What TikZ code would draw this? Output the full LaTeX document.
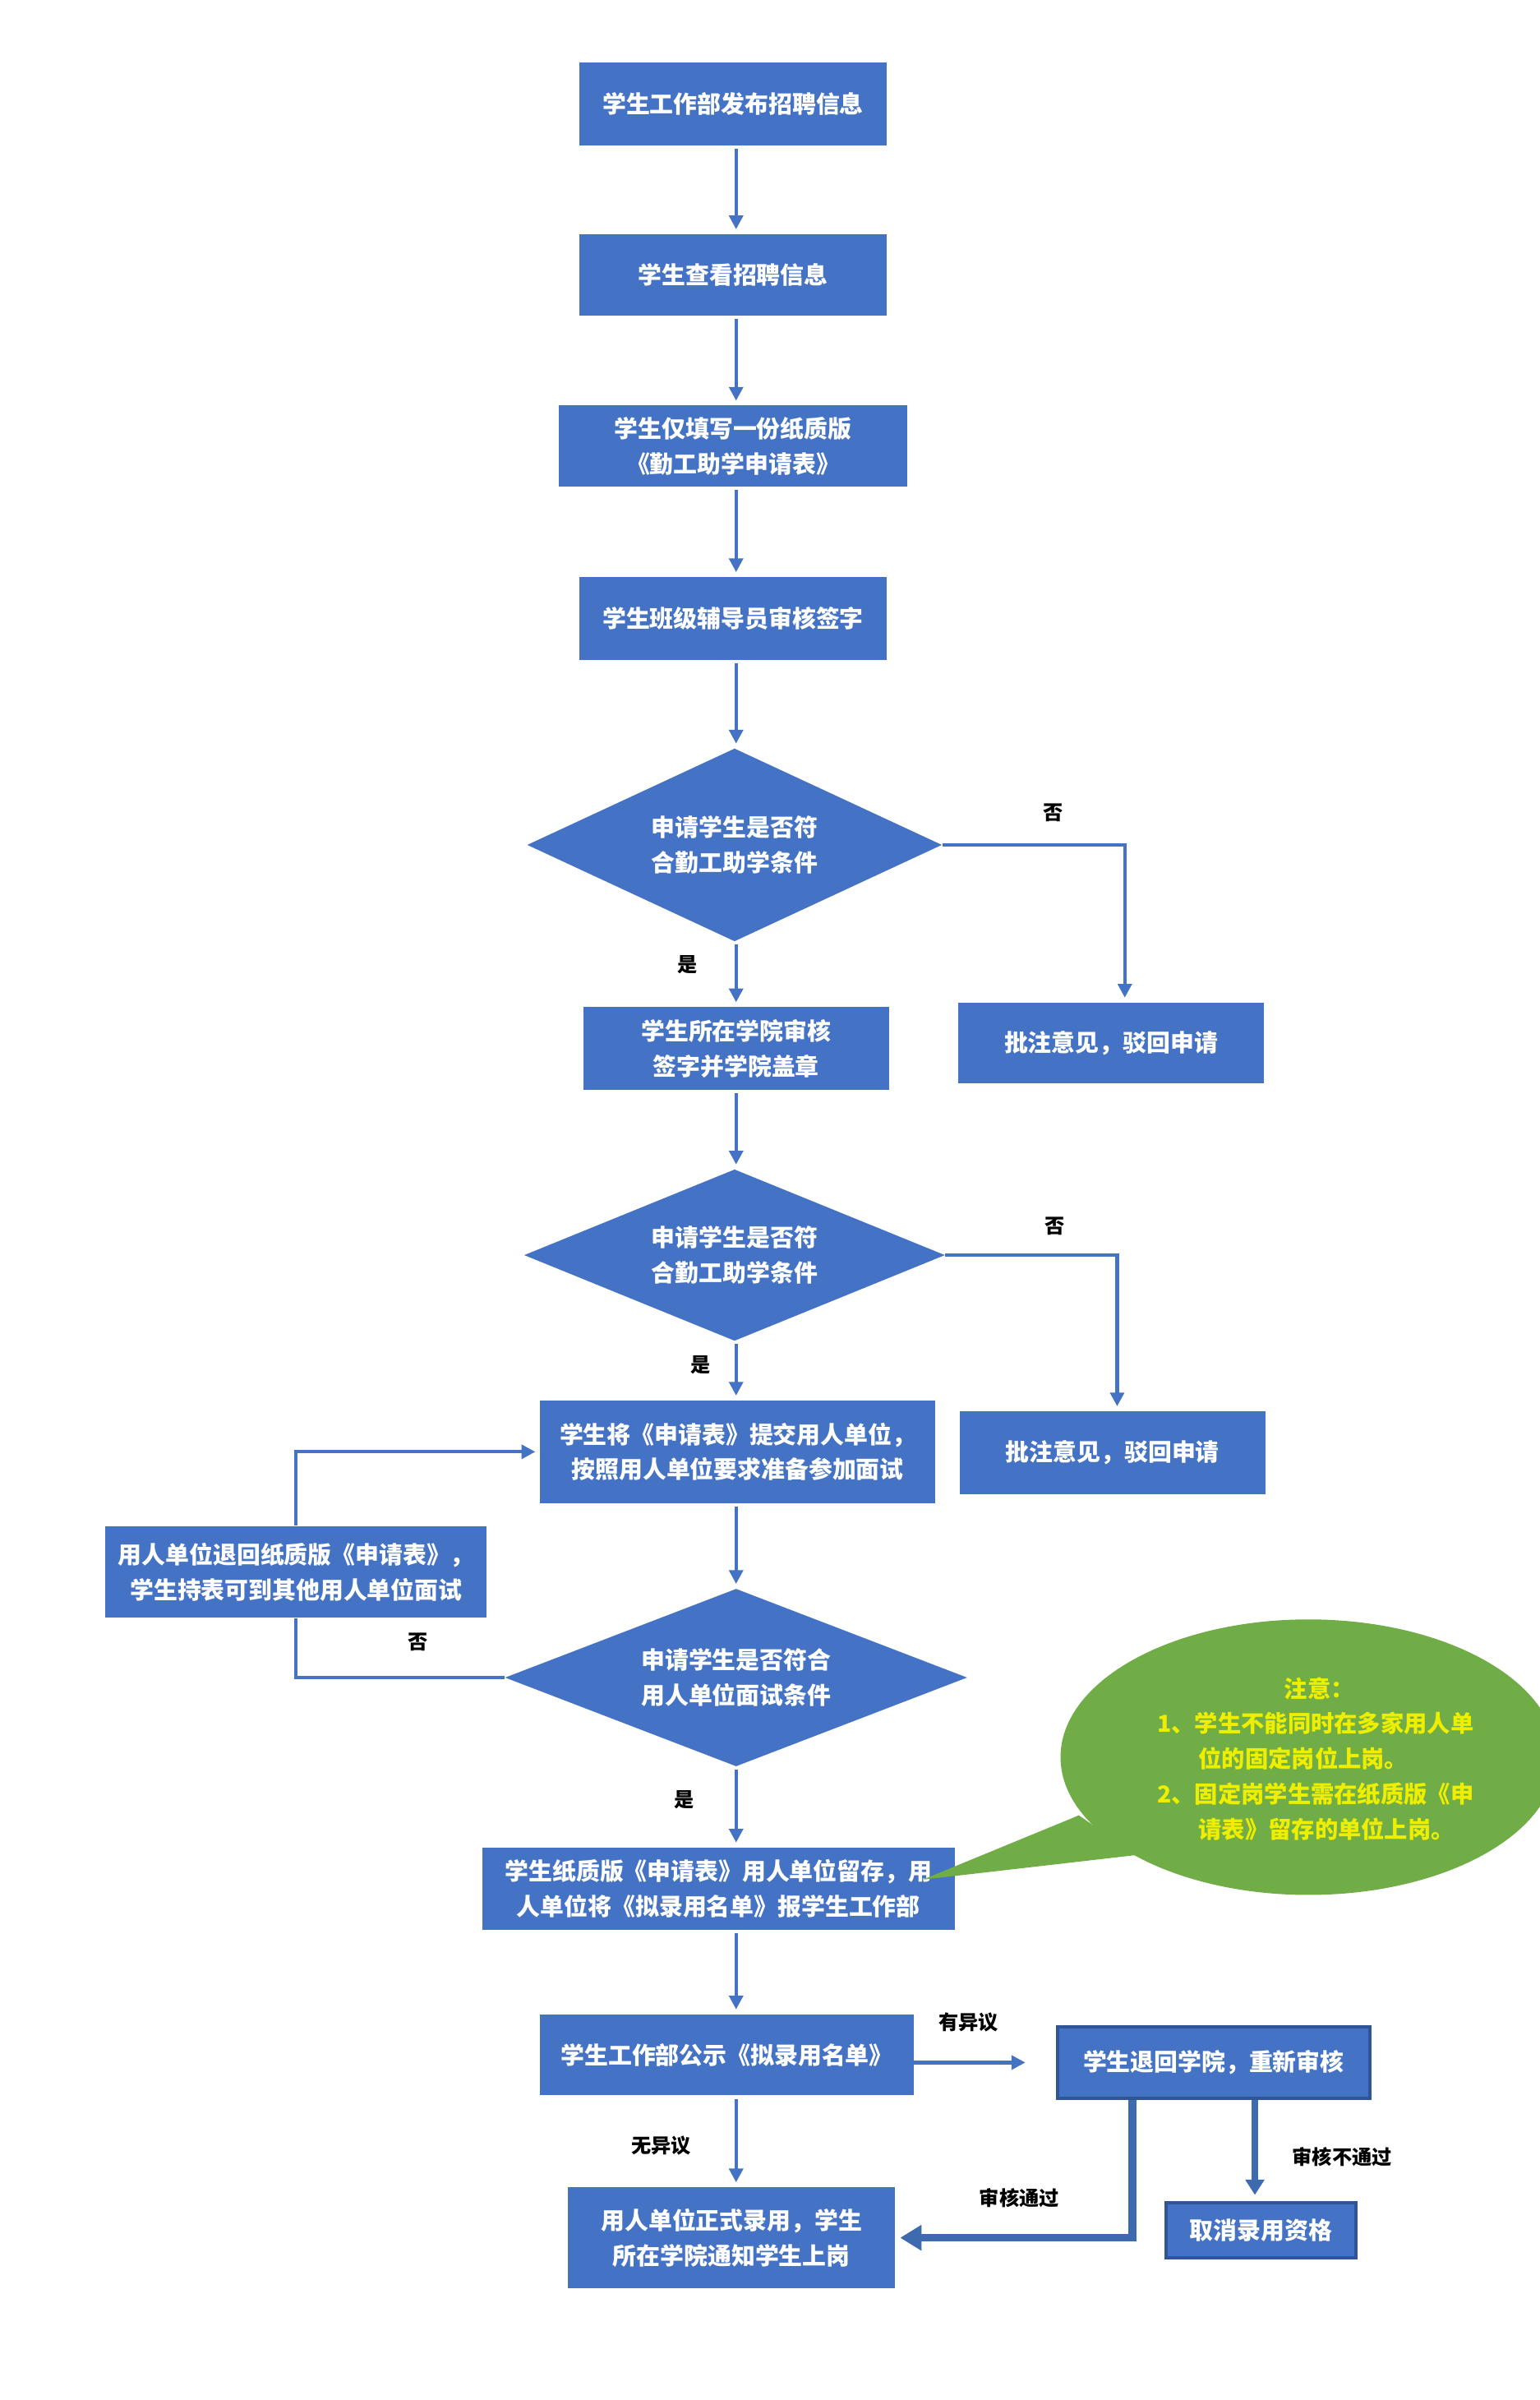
\documentclass[tikz,border=0pt]{standalone}
\usepackage{fontspec}
\setmainfont{Noto Sans CJK SC}
\usetikzlibrary{arrows.meta,shapes.geometric,calc}
\definecolor{boxblue}{RGB}{68,114,196}
\definecolor{darkblue}{RGB}{47,85,151}
\definecolor{lineblue}{RGB}{68,114,196}
\definecolor{thickblue}{RGB}{62,106,176}
\definecolor{notegreen}{RGB}{112,173,71}
\definecolor{noteyellow}{RGB}{238,238,0}
\begin{document}
\begin{tikzpicture}[x=1pt,y=-1pt,
 box/.style={rectangle, fill=boxblue, text=white, font=\bfseries\fontsize{15.5}{23}\selectfont, align=center, inner sep=0pt},
 dbox/.style={box, draw=darkblue, line width=2pt},
 dia/.style={diamond, aspect=2, fill=boxblue, text=white, font=\bfseries\fontsize{15.5}{23}\selectfont, align=center, inner sep=0pt},
 arr/.style={draw=lineblue, line width=2.2pt, -{Triangle[length=9pt,width=9pt]}, shorten >=3pt, shorten <=2pt},
 wideline/.style={draw=thickblue, line width=5pt, -{Triangle[length=14pt,width=16pt]}, shorten >=3pt},
 medline/.style={draw=thickblue, line width=4pt, -{Triangle[length=10pt,width=12pt]}, shorten >=4pt},
 lbl/.style={font=\bfseries\fontsize{13}{15}\selectfont, text=black, inner sep=0pt},
 note/.style={font=\bfseries\fontsize{15.2}{23}\selectfont, text=noteyellow, inner sep=0pt},
]
\useasboundingbox (0,0) rectangle (1006,1568);
\fill[white] (0,0) rectangle (1006,1568);
\coordinate (colx) at (481,0);

% main column
\node[box, minimum width=201pt, minimum height=54pt] (b1) at (479,68) {学生工作部发布招聘信息};
\node[box, minimum width=201pt, minimum height=53pt] (b2) at (479,179.5) {学生查看招聘信息};
\node[box, minimum width=228pt, minimum height=53pt] (b3) at (479,291.5) {学生仅填写一份纸质版\\《勤工助学申请表》};
\node[box, minimum width=201pt, minimum height=54pt] (b4) at (479,404) {学生班级辅导员审核签字};
\node[dia, minimum width=271pt, minimum height=126pt] (d1) at (480,552) {申请学生是否符\\合勤工助学条件};
\node[box, minimum width=200pt, minimum height=53pt] (r1) at (726,681.5) {批注意见，驳回申请};
\node[box, minimum width=200pt, minimum height=54pt] (b5) at (481,685) {学生所在学院审核\\签字并学院盖章};
\node[dia, minimum width=275pt, minimum height=112pt] (d2) at (480,820) {申请学生是否符\\合勤工助学条件};
\node[box, minimum width=200pt, minimum height=54pt] (r2) at (727,949) {批注意见，驳回申请};
\node[box, minimum width=258pt, minimum height=67pt] (b6) at (482,948.5) {学生将《申请表》提交用人单位，\\按照用人单位要求准备参加面试};
\node[box, minimum width=249pt, minimum height=60pt] (b7) at (193.5,1027) {用人单位退回纸质版《申请表》，\\学生持表可到其他用人单位面试};
\node[dia, minimum width=302pt, minimum height=116pt] (d3) at (481,1096) {申请学生是否符合\\用人单位面试条件};
\node[box, minimum width=309pt, minimum height=54pt] (b8) at (469.5,1234) {学生纸质版《申请表》用人单位留存，用\\人单位将《拟录用名单》报学生工作部};
\node[box, minimum width=244pt, minimum height=53pt] (b9) at (475,1342.5) {学生工作部公示《拟录用名单》};
\node[dbox, minimum width=204pt, minimum height=47pt] (b10) at (793,1347.5) {学生退回学院，重新审核};
\node[box, minimum width=214pt, minimum height=66pt] (b11) at (478,1462) {用人单位正式录用，学生\\所在学院通知学生上岗};
\node[dbox, minimum width=124pt, minimum height=36pt] (b12) at (824,1457) {取消录用资格};

% connectors
\draw[arr] (b1.south -| colx) -- (b2.north -| colx);
\draw[arr] (b2.south -| colx) -- (b3.north -| colx);
\draw[arr] (b3.south -| colx) -- (b4.north -| colx);
\draw[arr] (b4.south -| colx) -- (d1.north -| colx);
\draw[arr] (d1.south -| colx) -- (b5.north -| colx);
\draw[arr, shorten <=0pt] (d1.east) -| ([xshift=9pt]r1.north);
\draw[arr] (b5.south -| colx) -- (d2.north -| colx);
\draw[arr, shorten <=0pt] (d2.east) -| ([xshift=3pt]r2.north);
\draw[arr] (d2.south -| colx) -- (b6.north -| colx);
\draw[arr] (b6.south -| colx) -- (d3.north -| colx);
\draw[draw=lineblue, line width=2.2pt] (d3.west) -| (b7.south);
\draw[arr, shorten <=0pt] (b7.north) |- (b6.west);
\draw[arr] (d3.south -| colx) -- (b8.north -| colx);
\draw[arr] (b8.south -| colx) -- (b9.north -| colx);
\draw[arr, line width=3pt, shorten >=20pt, shorten <=0pt] (b9.east |- b10.west) -- (b10.west);
\draw[arr] (b9.south -| colx) -- (b11.north -| colx);
\draw[wideline] ([xshift=-53pt]b10.south) |- (b11.east);
\draw[medline] ([xshift=27pt]b10.south) -- ([xshift=-4pt]b12.north);

% labels
\node[lbl] (l1) at (688,531) {否};
\node[lbl] (l2) at (449,630) {是};
\node[lbl] (l3) at (689,801) {否};
\node[lbl] (l4) at (458,892) {是};
\node[lbl] (l5) at (273,1073) {否};
\node[lbl] (l6) at (447,1176) {是};
\node[lbl] (l7) at (633,1321) {有异议};
\node[lbl] (l8) at (432,1402) {无异议};
\node[lbl] (l9) at (666,1436) {审核通过};
\node[lbl] (l10) at (877,1409) {审核不通过};

% callout
\fill[notegreen] (855,1148) ellipse [x radius=162, y radius=90];
\fill[notegreen] (705,1186) -- (603,1228) -- (742,1212) -- cycle;
\node[note] (n0) at (862,1103) {注意：};
\node[note, anchor=west] (n1) at (756,1126) {1、学生不能同时在多家用人单};
\node[note, anchor=west] (n2) at (783,1149) {位的固定岗位上岗。};
\node[note, anchor=west] (n3) at (756,1172) {2、固定岗学生需在纸质版《申};
\node[note, anchor=west] (n4) at (783,1195) {请表》留存的单位上岗。};
\end{tikzpicture}
\end{document}
